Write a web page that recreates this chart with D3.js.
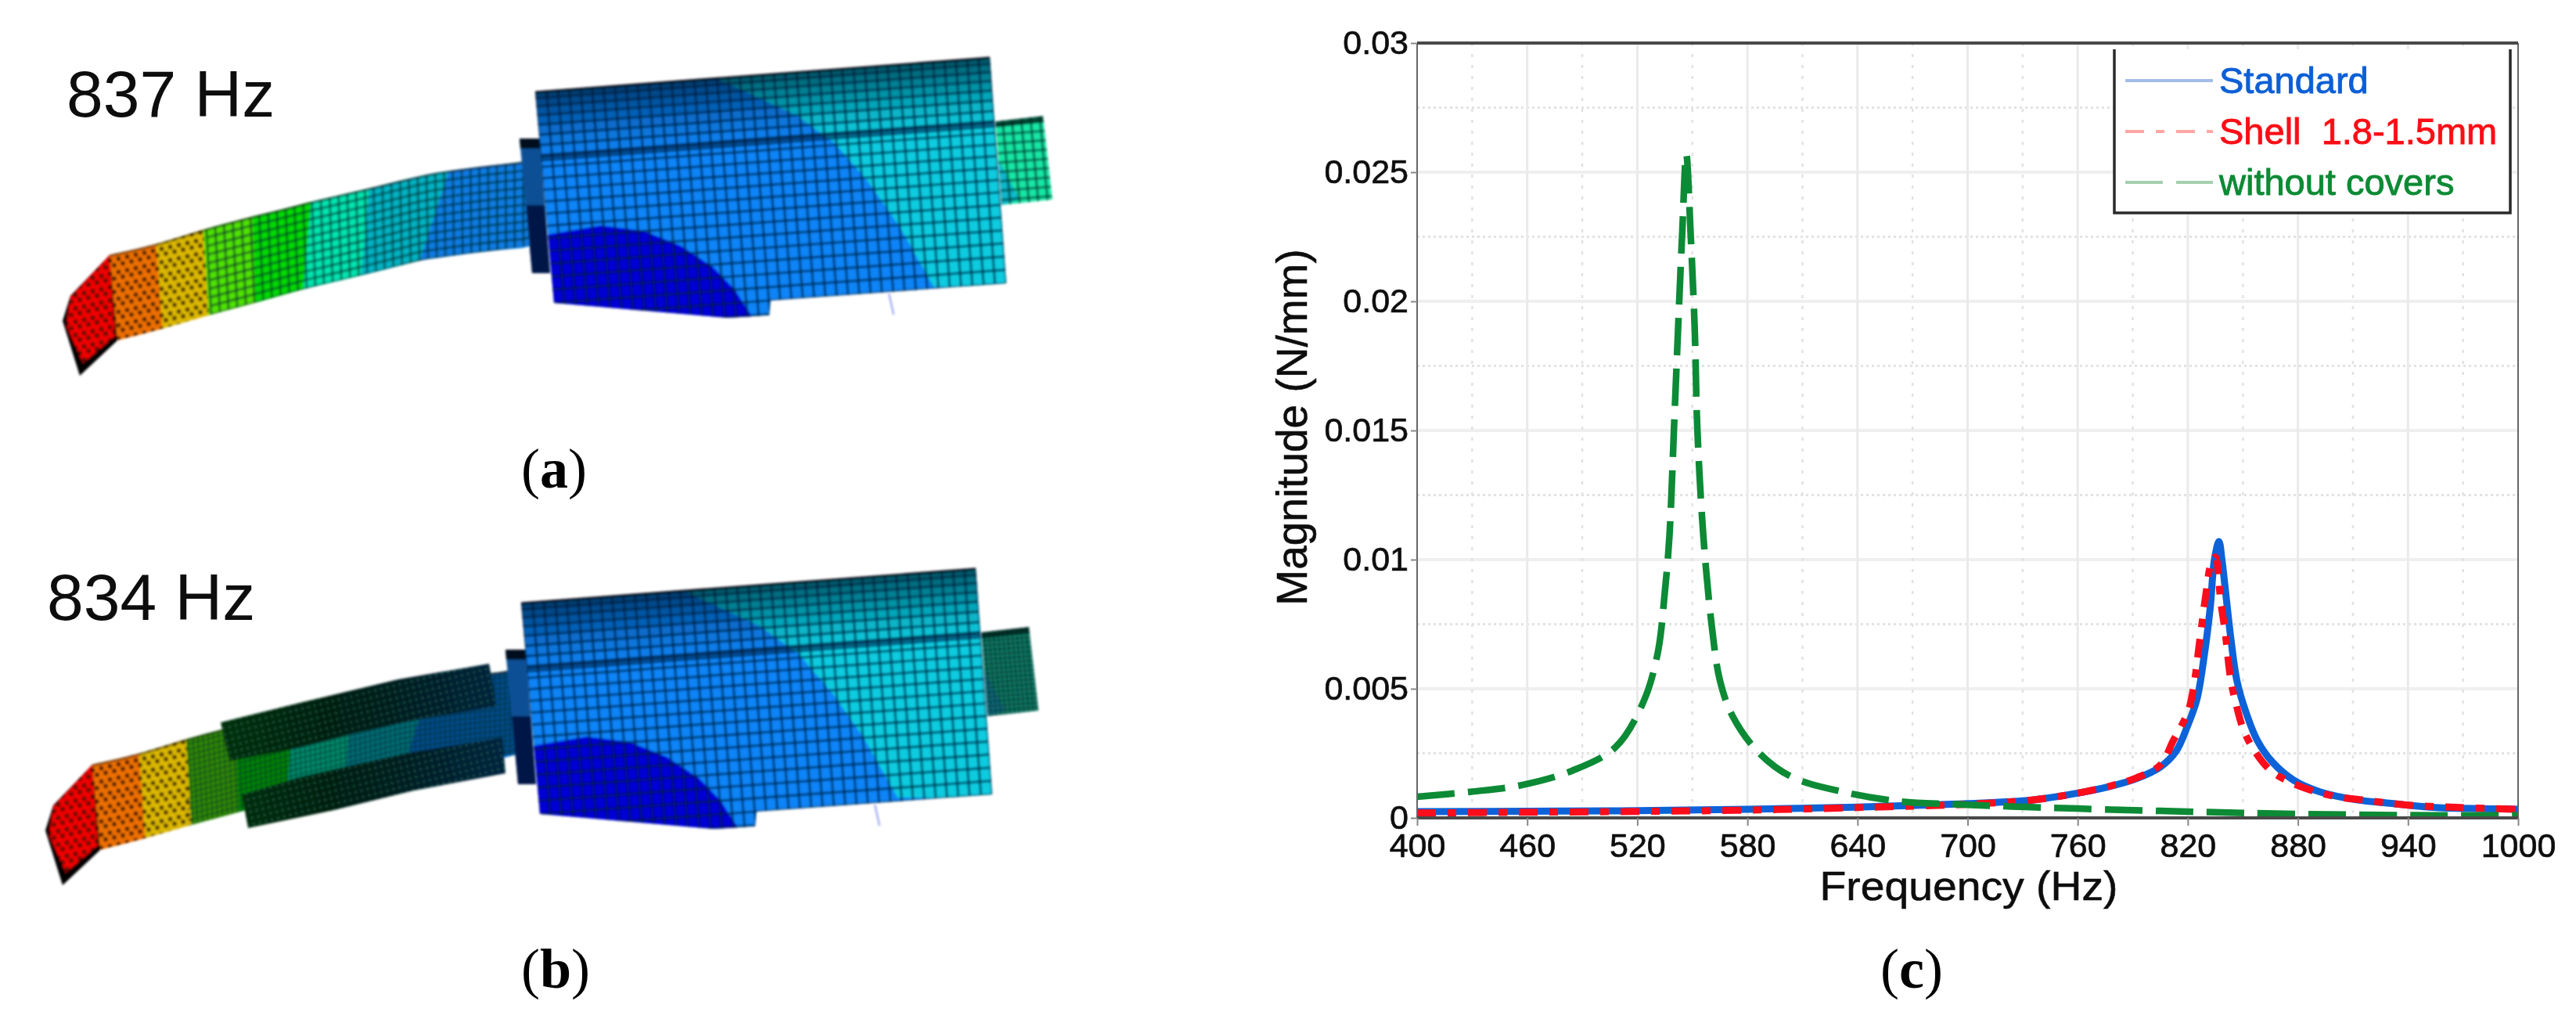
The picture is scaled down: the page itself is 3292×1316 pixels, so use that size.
<!DOCTYPE html>
<html>
<head>
<meta charset="utf-8">
<script src="https://cdn.jsdelivr.net/npm/d3@7"></script>
<style>
  html, body { margin: 0; padding: 0; background: #fff; }
  text { font-family: "Liberation Sans", Arial, sans-serif; fill: #111; }
</style>
</head>
<body>
<div id="chart"></div>
<script>
// ---- chart data
var xTicks = [400, 460, 520, 580, 640, 700, 760, 820, 880, 940, 1000];
var xMinor = [430, 490, 550, 610, 670, 730, 790, 850, 910, 970];
var yTicks = [0, 0.005, 0.01, 0.015, 0.02, 0.025, 0.03];
var yMinor = [0.0025, 0.0075, 0.0125, 0.0175, 0.0225, 0.0275];

var standardFreq = [400, 460, 520, 580, 640, 700, 736, 760, 777, 792, 805, 813.6, 820, 825, 829, 832.2, 834.5, 837, 838.6, 840.3, 843.5, 846.8, 851.7, 858, 866, 877.7, 892, 912, 931, 955, 990, 1000];
var standardMag = [0.00024, 0.00026, 0.00028, 0.00033, 0.00042, 0.00055, 0.0007, 0.00096, 0.00121, 0.00152, 0.00197, 0.00258, 0.00359, 0.0046, 0.00631, 0.00813, 0.01, 0.0107, 0.01, 0.00894, 0.00692, 0.0053, 0.00409, 0.00298, 0.00217, 0.00146, 0.00101, 0.0007, 0.00056, 0.0004, 0.00035, 0.00033];

var shellFreq = [400, 460, 520, 580, 640, 700, 736, 760, 777, 792, 805, 812, 820, 823, 826.6, 830, 832.5, 835, 837.9, 840.3, 843.5, 846, 850, 855.7, 864.6, 875, 887.5, 902, 915, 939, 969, 1000];
var shellMag = [0.00019, 0.00022, 0.00025, 0.0003, 0.0004, 0.00053, 0.0007, 0.00096, 0.00122, 0.00155, 0.00205, 0.00298, 0.00409, 0.005, 0.00692, 0.00874, 0.0098, 0.0101, 0.0084, 0.00722, 0.0053, 0.0045, 0.00348, 0.00267, 0.00187, 0.00141, 0.00106, 0.00081, 0.0007, 0.0005, 0.0004, 0.00033];

var coversFreq = [400, 429, 457, 485, 508, 523, 531, 535, 537.5, 540, 542.2, 544.5, 546.7, 549, 551.3, 552.7, 556, 560.5, 565, 572, 586, 604, 632, 664, 692, 724, 760, 816, 880, 954, 1000];
var coversMag = [0.00082, 0.00101, 0.00127, 0.00184, 0.00273, 0.00444, 0.00634, 0.00875, 0.0109, 0.0151, 0.0189, 0.0227, 0.0257, 0.0227, 0.0189, 0.0151, 0.0109, 0.00748, 0.00533, 0.00393, 0.00254, 0.00159, 0.00101, 0.00063, 0.00053, 0.00044, 0.00036, 0.00025, 0.00015, 0.0001, 0.0001];

var legendNames = ["Standard", "Shell  1.8-1.5mm", "without covers"];
var legendText = ["#0b5fd6", "#fb0f16", "#0a8a34"];
var legendLine = ["#a3bde9", "#ffa6a6", "#a5cfb0"];
var seriesColor = ["#0a62d8", "#fb0f1e", "#0a8a34"];
var seriesDash = [null, "24 15 11 15", "48 17"];
var seriesWidth = [9, 9, 8.5];

// ---- illustration outlines (panels a and b share one model)
var tubeTopX = [140, 200, 260, 323, 393, 481, 555, 666, 690];
var tubeTopY = [326, 313, 293, 277, 260, 238, 221, 206, 203];
var tubeBotX = [148, 208, 267, 327, 390, 460, 537, 675, 690];
var tubeBotY = [435, 420, 402, 387, 368, 353, 332, 313, 311];
var tubeBands = [
  { t0: 140, b0: 148, t1: 200, b1: 208, color: "#ee7000" },
  { t0: 200, b0: 208, t1: 260, b1: 267, color: "#dcb800" },
  { t0: 260, b0: 267, t1: 323, b1: 327, color: "#4fe400" },
  { t0: 323, b0: 327, t1: 398, b1: 388, color: "#00dc00" },
  { t0: 398, b0: 388, t1: 472, b1: 462, color: "#00e6b0" },
  { t0: 472, b0: 462, t1: 574, b1: 537, color: "#00b4c4" },
  { t0: 574, b0: 537, t1: 680, b1: 680, color: "#0a7ce4" }
];
var tipOuter = [[140, 326], [90, 378], [80, 410], [102, 480], [150, 435]];
var tipInner = [[140, 326], [90, 380], [85, 416], [106, 464], [147, 429]];
var flangeOutline = [[664, 177], [690, 177], [703, 349], [680, 349]];
var boxCorners = { tl: [684, 118], tr: [1265, 74], br: [1286, 362], bl: [708, 404] };
var boxOutline = [[684, 118], [1265, 74], [1286, 362], [985, 384], [983, 403], [930, 406], [708, 387]];
var cyanEdge = [[915, 100], [1017, 147], [1067, 183], [1110, 233], [1150, 290], [1193, 366]];
var deepBlueEdge = [[680, 311], [703, 299], [768, 288], [823, 295], [870, 314], [911, 341], [939, 370], [962, 406], [930, 412], [700, 395]];
var rearTube = [[1272, 155], [1333, 148], [1345, 255], [1280, 262]];
var rearWedge = [[1274, 200], [1303, 255], [1280, 262]];
var coverUpper = [[282, 923], [387, 897], [509, 868], [625, 848], [635, 903], [538, 918], [452, 937], [382, 955], [293, 973]];
var coverLower = [[309, 1015], [382, 993], [452, 977], [521, 962], [642, 942], [646, 988], [529, 1010], [427, 1035], [317, 1058]];

var width = 3292, height = 1316;
var margin = { left: 1811, right: 3218, top: 55, bottom: 1045 };

var svg = d3.select("#chart").append("svg")
  .attr("width", width).attr("height", height)
  .style("display", "block");

var defs = svg.append("defs");
defs.append("filter").attr("id", "softA").append("feGaussianBlur").attr("stdDeviation", 1.5);
defs.append("filter").attr("id", "softC").append("feGaussianBlur").attr("stdDeviation", 0.7);

var coverGrad = defs.append("linearGradient").attr("id", "coverGrad")
  .attr("gradientUnits", "userSpaceOnUse").attr("x1", 280).attr("x2", 650).attr("y1", 0).attr("y2", 0);
coverGrad.append("stop").attr("offset", 0).attr("stop-color", "#06300a");
coverGrad.append("stop").attr("offset", 0.45).attr("stop-color", "#031a12");
coverGrad.append("stop").attr("offset", 1).attr("stop-color", "#04223f");

var coverDots = defs.append("pattern").attr("id", "coverDots")
  .attr("patternUnits", "userSpaceOnUse").attr("width", 8).attr("height", 8)
  .attr("patternTransform", "rotate(-14)");
coverDots.append("circle").attr("cx", 4).attr("cy", 4).attr("r", 1.7).attr("fill", "#1f8a66").attr("opacity", 0.45);

var polyLine = d3.line();
var smoothClosed = d3.line().curve(d3.curveLinearClosed);

function poly(list) { return smoothClosed(list); }

function lerp(a, b, t) { return a + (b - a) * t; }

// point on the (extendable) box quad
function boxPoint(u, v) {
  var c = boxCorners;
  var tx = lerp(c.tl[0], c.tr[0], u), ty = lerp(c.tl[1], c.tr[1], u);
  var bx = lerp(c.bl[0], c.br[0], u), by = lerp(c.bl[1], c.br[1], u);
  return [lerp(tx, bx, v), lerp(ty, by, v)];
}

// tube edges: smooth curve through the read points, so it bends instead of kinking
function edgeCurve(xs, ys) {
  var index = d3.scaleLinear().domain(xs).range(xs.map(function(d, i) { return i / (xs.length - 1); }));
  var basis = d3.interpolateBasis(ys);
  return function(v) { return basis(Math.max(0, Math.min(1, index(v)))); };
}
var tubeTop = edgeCurve(tubeTopX, tubeTopY);
var tubeBot = edgeCurve(tubeBotX, tubeBotY);

function bandPolygon(b) {
  var pts = [];
  d3.range(0, 13).forEach(function(i) {
    var px = lerp(b.t0, b.t1, i / 12);
    pts.push([px, tubeTop(px)]);
  });
  d3.range(12, -1, -1).forEach(function(i) {
    var px = lerp(b.b0, b.b1, i / 12);
    pts.push([px, tubeBot(px)]);
  });
  return pts;
}

function drawTube(g, id, opts) {
  // coloured bands
  g.append("g").selectAll("path").data(tubeBands).join("path")
    .attr("d", function(d) { return poly(bandPolygon(d)); })
    .attr("fill", function(d) { return d.color; })
    .attr("stroke", function(d) { return d.color; }).attr("stroke-width", 0.6);

  var clip = g.append("clipPath").attr("id", id + "Tube");
  clip.append("path").attr("d", poly(bandPolygon({ t0: 140, b0: 148, t1: 680, b1: 680 })));

  // the part behind the covers looks darker in panel b
  if (opts.dim) {
    g.append("path")
      .attr("d", poly(bandPolygon({ t0: 260, b0: 267, t1: 680, b1: 680 })))
      .attr("fill", "#000").attr("opacity", 0.38);
  }

  var mesh = g.append("g").attr("clip-path", "url(#" + id + "Tube)");
  var n = opts.dim ? 84 : 48, rows = opts.dim ? 16 : 10;
  var cols = d3.range(0, n + 1).map(function(i) {
    var x0 = lerp(140, 680, i / n), x1 = lerp(148, 680, i / n);
    return [[x0, tubeTop(x0)], [x1, tubeBot(x1)]];
  });
  var rowLines = d3.range(0, rows + 1).map(function(j) {
    return d3.range(0, n + 1).map(function(i) {
      var x0 = lerp(140, 680, i / n), x1 = lerp(148, 680, i / n);
      return [lerp(x0, x1, j / rows), lerp(tubeTop(x0), tubeBot(x1), j / rows)];
    });
  });
  var startX = 260;
  mesh.append("g").selectAll("path").data(cols.filter(function(c) { return c[0][0] >= startX; })).join("path")
    .attr("d", polyLine).attr("fill", "none")
    .attr("stroke", "#032a2a").attr("stroke-opacity", opts.dim ? 0.5 : 0.55)
    .attr("stroke-width", opts.dim ? 2 : 3.2);
  mesh.append("g").selectAll("path")
    .data(rowLines.map(function(r) { return r.filter(function(p) { return p[0] >= startX; }); })).join("path")
    .attr("d", polyLine).attr("fill", "none")
    .attr("stroke", "#032a2a").attr("stroke-opacity", opts.dim ? 0.5 : 0.55)
    .attr("stroke-width", opts.dim ? 2 : 3.2);

  // dark rim along the upper edge
  g.append("path")
    .attr("d", polyLine(d3.range(140, 676, 10).map(function(px) { return [px, tubeTop(px) + 1]; })))
    .attr("fill", "none").attr("stroke", "#111").attr("stroke-opacity", 0.45).attr("stroke-width", 3);

  // tip, with the black dots of its triangle mesh
  g.append("path").attr("d", poly(tipOuter)).attr("fill", "#060000");
  g.append("path").attr("d", poly(tipInner)).attr("fill", "#f20000");

  var dotClip = g.append("clipPath").attr("id", id + "Dots");
  dotClip.append("path").attr("d", poly(tipInner));
  dotClip.append("path").attr("d", poly(bandPolygon({ t0: 140, b0: 148, t1: 260, b1: 267 })));
  var dots = [];
  d3.range(0, 20).forEach(function(i) {
    d3.range(0, 22).forEach(function(j) {
      dots.push([80 + i * 11 + (j % 2) * 5.5, 320 + j * 8.5 - i * 2.5]);
    });
  });
  g.append("g").attr("clip-path", "url(#" + id + "Dots)")
    .selectAll("circle").data(dots).join("circle")
    .attr("cx", function(d) { return d[0]; }).attr("cy", function(d) { return d[1]; })
    .attr("r", 2.9).attr("fill", "#1a0a00").attr("opacity", 0.75);
}

function drawFlange(g) {
  g.append("path").attr("d", poly(flangeOutline)).attr("fill", "#0a4f94");
  g.append("path").attr("d", poly([[664, 177], [690, 177], [692, 190], [665, 190]])).attr("fill", "#02101e");
  g.append("path").attr("d", poly([[672, 262], [696, 262], [703, 349], [680, 349]])).attr("fill", "#020b38").attr("opacity", 0.85);
}

function drawBox(g, id, opts) {
  var clip = g.append("clipPath").attr("id", id + "Box");
  clip.append("path").attr("d", poly(boxOutline));

  var body = g.append("g").attr("clip-path", "url(#" + id + "Box)");
  body.append("path").attr("d", poly(boxOutline)).attr("fill", "#0a84f8");

  var edge = cyanEdge.map(function(p) { return [p[0] + opts.cyanShift, p[1]]; });
  body.append("path")
    .attr("d", poly(edge.concat([[1310, 366], [1310, 50], [edge[0][0], 50]])))
    .attr("fill", "#08cce0");
  body.append("path").attr("d", poly(deepBlueEdge)).attr("fill", "#0000d4");

  // rows are squeezed at the top where the surface curves away
  var nRows = 20, nCols = 40;
  var rowV = d3.range(0, nRows + 1).map(function(j) { return Math.pow(j / nRows, 1.2); }).concat([1.06, 1.12]);

  // shading strips on the curved top
  var strips = [0.6, 0.5, 0.4, 0.3, 0.2, 0.12, 0.06];
  body.append("g").selectAll("path").data(strips).join("path")
    .attr("d", function(d, i) {
      return poly([boxPoint(-0.05, rowV[i]), boxPoint(1.05, rowV[i]), boxPoint(1.05, rowV[i + 1]), boxPoint(-0.05, rowV[i + 1])]);
    })
    .attr("fill", "#001020").attr("opacity", function(d) { return d; });

  // groove along the cover
  body.append("path")
    .attr("d", poly([boxPoint(-0.05, 0.275), boxPoint(1.05, 0.275), boxPoint(1.05, 0.31), boxPoint(-0.05, 0.31)]))
    .attr("fill", "#00204a").attr("opacity", 0.6);

  var lines = [];
  rowV.forEach(function(v) { lines.push([boxPoint(-0.05, v), boxPoint(1.05, v)]); });
  d3.range(0, nCols + 1).forEach(function(i) { lines.push([boxPoint(i / nCols, 0), boxPoint(i / nCols, 1.15)]); });
  body.append("g").selectAll("path").data(lines).join("path")
    .attr("d", polyLine).attr("fill", "none")
    .attr("stroke", "#021a38").attr("stroke-opacity", 0.62).attr("stroke-width", 3.2);

  g.append("path")
    .attr("d", polyLine(boxOutline.slice(0, 2)))
    .attr("fill", "none").attr("stroke", "#040a14").attr("stroke-width", 3);
  g.append("path")
    .attr("d", polyLine([[1136, 375], [1142, 402]]))
    .attr("fill", "none").attr("stroke", "#8d9cf0").attr("stroke-width", 2);
}

function drawRearTube(g, id, opts) {
  var clip = g.append("clipPath").attr("id", id + "Rear");
  clip.append("path").attr("d", poly(rearTube));
  var t = g.append("g").attr("clip-path", "url(#" + id + "Rear)");
  t.append("path").attr("d", poly(rearTube)).attr("fill", opts.dim ? "#0a7a66" : "#12e8a4");
  t.append("path").attr("d", poly(rearWedge)).attr("fill", opts.dim ? "#0a6a80" : "#08b8cc");
  var step = opts.dim ? 6 : 12;
  var lines = [];
  d3.range(1260, 1352, step).forEach(function(v) { lines.push([[v - 4, 140], [v + 8, 270]]); });
  d3.range(146, 270, step).forEach(function(v) { lines.push([[1260, v + 3], [1350, v - 4]]); });
  t.append("g").selectAll("path").data(lines).join("path")
    .attr("d", polyLine).attr("fill", "none")
    .attr("stroke", "#043830").attr("stroke-opacity", 0.65).attr("stroke-width", opts.dim ? 2 : 3.2);
  t.append("path").attr("d", poly([[1272, 155], [1333, 148], [1334, 156], [1272, 163]]))
    .attr("fill", "#021a14").attr("opacity", 0.75);
}

// ---- panels a and b
var panelA = svg.append("g").attr("filter", "url(#softA)");
var aTube = panelA.append("g");
drawRearTube(panelA, "a", { dim: false });
drawTube(aTube, "a", { dim: false });
drawFlange(panelA);
drawBox(panelA, "a", { cyanShift: 0 });

var panelB = svg.append("g").attr("filter", "url(#softA)");
var bShift = panelB.append("g").attr("transform", "translate(-18,653)");
var bTube = panelB.append("g").attr("transform", "translate(-22,651)");
drawRearTube(bShift, "b", { dim: true });
drawTube(bTube, "b", { dim: true });
panelB.append("g").selectAll("path").data([coverUpper, coverLower]).join("path")
  .attr("d", poly).attr("fill", "url(#coverGrad)");
panelB.append("g").selectAll("path").data([coverUpper, coverLower]).join("path")
  .attr("d", poly).attr("fill", "url(#coverDots)");
var bFront = panelB.append("g").attr("transform", "translate(-18,653)");
drawFlange(bFront);
drawBox(bFront, "b", { cyanShift: -28 });

var plate = svg.append("g").attr("filter", "url(#softC)");
plate.append("text").attr("x", 85).attr("y", 149).attr("font-size", 84).text("837 Hz");
plate.append("text").attr("x", 60).attr("y", 792).attr("font-size", 84).text("834 Hz");

// ---- panel c
var x = d3.scaleLinear().domain([400, 1000]).range([margin.left, margin.right]);
var y = d3.scaleLinear().domain([0, 0.03]).range([margin.bottom, margin.top]);

var plot = svg.append("g").attr("filter", "url(#softC)");

plot.append("g").selectAll("line").data(yMinor).join("line")
  .attr("x1", margin.left).attr("x2", margin.right)
  .attr("y1", y).attr("y2", y)
  .attr("stroke", "#e2e2e2").attr("stroke-width", 3).attr("stroke-dasharray", "3 4");
plot.append("g").selectAll("line").data(yTicks.slice(1, -1)).join("line")
  .attr("x1", margin.left).attr("x2", margin.right)
  .attr("y1", y).attr("y2", y)
  .attr("stroke", "#efefef").attr("stroke-width", 4);
plot.append("g").selectAll("line").data(xMinor).join("line")
  .attr("y1", margin.top).attr("y2", margin.bottom)
  .attr("x1", x).attr("x2", x)
  .attr("stroke", "#e2e2e2").attr("stroke-width", 2.5).attr("stroke-dasharray", "4 10");
plot.append("g").selectAll("line").data(xTicks.slice(1, -1)).join("line")
  .attr("y1", margin.top).attr("y2", margin.bottom)
  .attr("x1", x).attr("x2", x)
  .attr("stroke", "#eaeaea").attr("stroke-width", 3);

var curve = d3.line()
  .x(function(d) { return x(d[0]); })
  .y(function(d) { return y(d[1]); })
  .curve(d3.curveCatmullRom.alpha(0.5));

function zipSeries(fr, mag) { return fr.map(function(f, i) { return [f, mag[i]]; }); }

var allSeries = [
  zipSeries(standardFreq, standardMag),
  zipSeries(shellFreq, shellMag),
  zipSeries(coversFreq, coversMag)
];

plot.append("g").selectAll("path").data(allSeries).join("path")
  .attr("d", curve)
  .attr("fill", "none")
  .attr("stroke", function(d, i) { return seriesColor[i]; })
  .attr("stroke-width", function(d, i) { return seriesWidth[i]; })
  .attr("stroke-dasharray", function(d, i) { return seriesDash[i]; })
  .attr("stroke-linejoin", "round");

// frame
plot.append("path")
  .attr("d", "M" + margin.left + "," + margin.top + "V" + margin.bottom + "M" + margin.right + "," + margin.top + "V" + margin.bottom)
  .attr("stroke", "#666").attr("stroke-width", 2).attr("fill", "none");
plot.append("path")
  .attr("d", "M" + margin.left + "," + margin.top + "H" + margin.right + "M" + margin.left + "," + margin.bottom + "H" + margin.right)
  .attr("stroke", "#4a4a4a").attr("stroke-width", 4).attr("fill", "none");

var xAxis = plot.append("g")
  .attr("transform", "translate(0," + margin.bottom + ")")
  .call(d3.axisBottom(x).tickValues(xTicks).tickSize(10).tickPadding(9).tickFormat(d3.format("d")));
var yAxis = plot.append("g")
  .attr("transform", "translate(" + margin.left + ",0)")
  .call(d3.axisLeft(y).tickValues(yTicks).tickSize(8).tickPadding(3).tickFormat(function(d) { return String(d); }));
[xAxis, yAxis].forEach(function(ax) {
  ax.select(".domain").remove();
  ax.selectAll("line").attr("stroke", "#888").attr("stroke-width", 2);
  ax.selectAll("text").attr("font-size", 43).attr("font-family", "Liberation Sans")
    .attr("fill", "#111").attr("stroke", "#111").attr("stroke-width", 0.7);
});

plot.append("text").attr("x", 2516).attr("y", 1150).attr("text-anchor", "middle")
  .attr("font-size", 52).attr("textLength", 381).attr("lengthAdjust", "spacingAndGlyphs")
  .attr("stroke", "#111").attr("stroke-width", 0.6).text("Frequency (Hz)");
plot.append("text").attr("transform", "translate(1670,546) rotate(-90)")
  .attr("text-anchor", "middle").attr("font-size", 55)
  .attr("stroke", "#111").attr("stroke-width", 0.6).text("Magnitude (N/mm)");

// legend, open at the top like the original
var legend = plot.append("g");
legend.append("rect").attr("x", 2702).attr("y", 63).attr("width", 506).attr("height", 209).attr("fill", "#fff");
legend.append("path").attr("d", "M2702,63V272H3208V63").attr("fill", "none").attr("stroke", "#2a2a2a").attr("stroke-width", 3.5);
var legendY = [103, 168, 233];
legend.selectAll("line").data(legendNames).join("line")
  .attr("x1", 2716).attr("x2", 2828)
  .attr("y1", function(d, i) { return legendY[i]; }).attr("y2", function(d, i) { return legendY[i]; })
  .attr("stroke", function(d, i) { return legendLine[i]; })
  .attr("stroke-width", 4)
  .attr("stroke-dasharray", function(d, i) { return seriesDash[i]; });
legend.selectAll("text").data(legendNames).join("text")
  .attr("x", 2836)
  .attr("y", function(d, i) { return legendY[i] + 16; })
  .attr("font-size", 47)
  .style("white-space", "pre")
  .style("fill", function(d, i) { return legendText[i]; })
  .style("stroke", function(d, i) { return legendText[i]; })
  .style("stroke-width", 0.9)
  .text(function(d) { return d; });

// ---- sub-figure captions
var captions = [
  { letter: "a", cx: 708, base: 623 },
  { letter: "b", cx: 710, base: 1262 },
  { letter: "c", cx: 2443, base: 1262 }
];
var cap = svg.append("g").selectAll("text").data(captions).join("text")
  .attr("x", function(d) { return d.cx; })
  .attr("y", function(d) { return d.base; })
  .attr("text-anchor", "middle")
  .attr("font-size", 72)
  .style("font-family", "'Liberation Serif', serif")
  .style("fill", "#000");
cap.append("tspan").text("(");
cap.append("tspan").attr("font-weight", "bold").text(function(d) { return d.letter; });
cap.append("tspan").text(")");
</script>
</body>
</html>
